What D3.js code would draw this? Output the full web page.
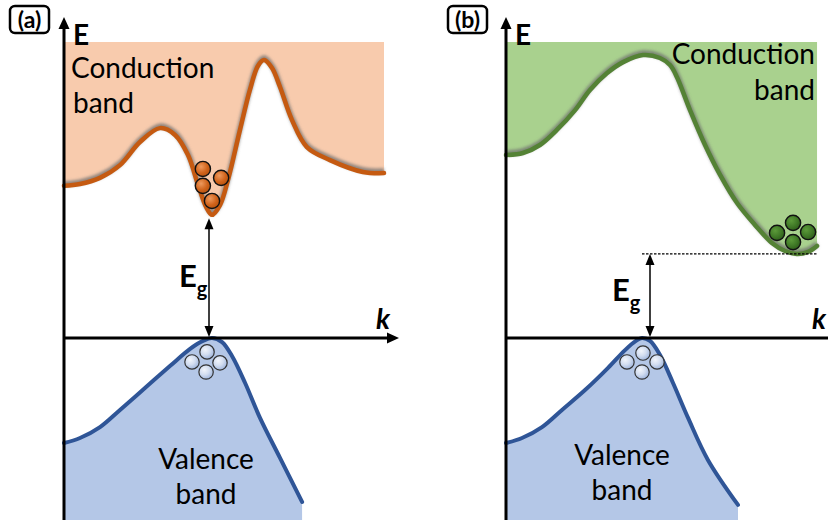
<!DOCTYPE html>
<html>
<head>
<meta charset="utf-8">
<script src="https://cdn.jsdelivr.net/npm/d3@7"></script>
<style>
  html, body { margin: 0; padding: 0; background: #fff; }
  svg { display: block; }
  text { font-family: Lato, "Open Sans", "Liberation Sans", sans-serif; }
</style>
</head>
<body>
<svg id="chart" width="828" height="520"></svg>
<script>
// Band-structure sketch: (a) direct gap, (b) indirect gap.
// k in arbitrary units (0..10), E in arbitrary units (E = 0 at valence maximum).

// ---- (a) direct band gap ----
const condA_k = [0, 0.5, 1.125, 1.75, 2.375, 3.0, 3.47, 3.875, 4.19, 4.44, 4.625, 4.875, 5.125, 5.5, 5.81, 6.06, 6.25, 6.5, 6.75, 7.125, 7.59, 8.31, 9.34, 10];
const condA_E = [5.14, 5.20, 5.41, 5.84, 6.62, 7.09, 6.86, 6.18, 5.17, 4.43, 4.16, 4.49, 5.34, 7.03, 8.38, 9.19, 9.39, 9.12, 8.48, 7.36, 6.45, 6.01, 5.61, 5.57];
const valA_k = [0, 0.5, 1.125, 1.75, 2.53, 3.31, 3.94, 4.34, 4.625, 4.94, 5.25, 5.66, 6.125, 6.75, 7.44];
const valA_E = [-3.55, -3.38, -3.01, -2.43, -1.69, -0.95, -0.37, -0.10, 0, -0.14, -0.61, -1.52, -2.70, -4.05, -5.54];
const elecA_k = [4.34, 4.91, 4.34, 4.625];
const elecA_E = [5.71, 5.41, 5.14, 4.63];
const holeA_k = [4.0, 4.47, 4.875, 4.44];
const holeA_E = [-0.81, -0.47, -0.84, -1.15];

// ---- (b) indirect band gap ----
const condB_k = [0, 0.53, 1.06, 1.59, 2.16, 2.625, 3.16, 3.66, 4.28, 4.81, 5.125, 5.34, 5.75, 6.22, 6.69, 7.22, 7.78, 8.31, 8.72, 9.09, 9.44, 9.72];
const condB_E = [6.18, 6.25, 6.52, 7.03, 7.70, 8.38, 8.95, 9.32, 9.56, 9.46, 9.22, 8.82, 7.70, 6.52, 5.51, 4.56, 3.82, 3.21, 2.94, 2.84, 2.91, 3.11];
const valB_k = [0, 0.5, 1.125, 1.75, 2.47, 3.19, 3.72, 4.06, 4.25, 4.5, 4.81, 5.22, 5.69, 6.31, 7.25];
const valB_E = [-3.55, -3.38, -3.01, -2.43, -1.76, -1.01, -0.41, -0.10, 0, -0.10, -0.57, -1.52, -2.70, -4.12, -5.64];
const elecB_k = [8.47, 8.97, 9.44, 8.97];
const elecB_E = [3.55, 3.89, 3.58, 3.24];
const holeB_k = [3.78, 4.28, 4.72, 4.25];
const holeB_E = [-0.81, -0.51, -0.81, -1.15];

const panelLabels = ["(a)", "(b)"];
const axisLabelE = "E";
const axisLabelK = "k";
const condLabel = ["Conduction", "band"];
const valLabel = ["Valence", "band"];

const E_TOP = 10, E_BOTTOM = -6.15;

const svg = d3.select("#chart");
const defs = svg.append("defs");

// soft grey shadow under the band curves
const sh = defs.append("filter").attr("id", "shadow")
  .attr("x", "-10%").attr("y", "-20%").attr("width", "120%").attr("height", "140%");
sh.append("feGaussianBlur").attr("stdDeviation", 1.6);

function radial(id, stops) {
  const g = defs.append("radialGradient").attr("id", id)
    .attr("cx", "38%").attr("cy", "35%").attr("r", "70%");
  stops.forEach(([o, c]) => g.append("stop").attr("offset", o).attr("stop-color", c));
}
radial("gOrange", [["0%", "#ee9a5e"], ["60%", "#d0631b"], ["100%", "#b4520f"]]);
radial("gGreen", [["0%", "#5c9a3a"], ["60%", "#3f7826"], ["100%", "#2d5a19"]]);
radial("gHole", [["0%", "#f2f5fb"], ["50%", "#d2ddf0"], ["100%", "#9cb3dc"]]);

const y = d3.scaleLinear().domain([E_BOTTOM, E_TOP]).range([520, 42]);

const panels = [
  {
    x: d3.scaleLinear().domain([0, 10]).range([64, 384]),
    axisX: 64, kEnd: 399,
    cond: { k: condA_k, E: condA_E, fill: "#f8cbad", line: "#c55a11" },
    val: { k: valA_k, E: valA_E },
    elec: { k: elecA_k, E: elecA_E, fill: "url(#gOrange)" },
    hole: { k: holeA_k, E: holeA_E },
    label: panelLabels[0], box: [10, 6],
    condText: { x: 71, y: 78, anchor: "start", dy: 35, x2: 73 },
    valText: { x: 206, y: 469 },
    kLabel: [376, 329],
    egX: 209, egLabel: [179, 287], dashed: false
  },
  {
    x: d3.scaleLinear().domain([0, 10]).range([506, 826]),
    axisX: 506, kEnd: 842,
    cond: { k: condB_k, E: condB_E, fill: "#a9d18e", line: "#548235" },
    val: { k: valB_k, E: valB_E },
    elec: { k: elecB_k, E: elecB_E, fill: "url(#gGreen)" },
    hole: { k: holeB_k, E: holeB_E },
    label: panelLabels[1], box: [448, 6],
    condText: { x: 815, y: 64, anchor: "end", dy: 36, x2: 815 },
    valText: { x: 622, y: 465 },
    kLabel: [812, 329],
    egX: 650, egLabel: [612, 301], dashed: true
  }
];

panels.forEach(p => {
  const g = svg.append("g");
  const x = p.x;
  const cPts = p.cond.k.map((k, i) => [k, p.cond.E[i]]);
  const vPts = p.val.k.map((k, i) => [k, p.val.E[i]]);
  const curve = d3.curveCatmullRom.alpha(0.5);

  // conduction band region (above the band edge)
  g.append("path")
    .attr("d", d3.area().x(d => x(d[0])).y0(y(E_TOP)).y1(d => y(d[1])).curve(curve)(cPts))
    .attr("fill", p.cond.fill);

  // valence band region (below the band edge)
  g.append("path")
    .attr("d", d3.area().x(d => x(d[0])).y0(y(E_BOTTOM)).y1(d => y(d[1])).curve(curve)(vPts))
    .attr("fill", "#b4c7e7");

  const line = d3.line().x(d => x(d[0])).y(d => y(d[1])).curve(curve);
  // shadow of the conduction edge
  g.append("path").attr("d", line(cPts))
    .attr("transform", "translate(0,-2)")
    .attr("fill", "none").attr("stroke", "#6e6e6e").attr("stroke-width", 5.5)
    .attr("stroke-opacity", 0.75).attr("filter", "url(#shadow)");
  g.append("path").attr("d", line(cPts))
    .attr("fill", "none").attr("stroke", p.cond.line).attr("stroke-width", 4.5)
    .attr("stroke-linecap", "round");
  g.append("path").attr("d", line(vPts))
    .attr("fill", "none").attr("stroke", "#2f5597").attr("stroke-width", 4)
    .attr("stroke-linecap", "round");

  // axes
  const y0 = y(0);
  g.append("line").attr("x1", p.axisX).attr("x2", p.axisX)
    .attr("y1", 520).attr("y2", 26).attr("stroke", "#000").attr("stroke-width", 3);
  g.append("path")
    .attr("d", `M${p.axisX},17 L${p.axisX - 5.5},29 L${p.axisX + 5.5},29 Z`).attr("fill", "#000");
  g.append("line").attr("x1", p.axisX).attr("x2", p.kEnd - 8)
    .attr("y1", y0).attr("y2", y0).attr("stroke", "#000").attr("stroke-width", 3);
  g.append("path")
    .attr("d", `M${p.kEnd},${y0} L${p.kEnd - 12},${y0 - 5.5} L${p.kEnd - 12},${y0 + 5.5} Z`).attr("fill", "#000");

  // axis labels
  g.append("text").attr("x", p.axisX + 9).attr("y", 45)
    .attr("font-size", 28).attr("font-weight", 700).text(axisLabelE);
  g.append("text").attr("x", p.kLabel[0]).attr("y", p.kLabel[1])
    .attr("font-size", 28).attr("font-weight", 700).attr("font-style", "italic").text(axisLabelK);

  // panel tag
  g.append("rect").attr("x", p.box[0]).attr("y", p.box[1]).attr("width", 39).attr("height", 27)
    .attr("rx", 5).attr("fill", "#fff").attr("stroke", "#000").attr("stroke-width", 2.5);
  g.append("text").attr("x", p.box[0] + 19.5).attr("y", p.box[1] + 21.5)
    .attr("text-anchor", "middle").attr("font-size", 23).attr("font-weight", 700).text(p.label);

  // band names
  g.append("text").attr("x", p.condText.x).attr("y", p.condText.y)
    .attr("text-anchor", p.condText.anchor).attr("font-size", 28).text(condLabel[0]);
  g.append("text").attr("x", p.condText.x2).attr("y", p.condText.y + p.condText.dy)
    .attr("text-anchor", p.condText.anchor).attr("font-size", 28).text(condLabel[1]);
  g.append("text").attr("x", p.valText.x).attr("y", p.valText.y)
    .attr("text-anchor", "middle").attr("font-size", 28).text(valLabel[0]);
  g.append("text").attr("x", p.valText.x).attr("y", p.valText.y + 35)
    .attr("text-anchor", "middle").attr("font-size", 28).text(valLabel[1]);

  // band gap arrow: from valence maximum up to conduction minimum
  const cMin = d3.min(p.cond.E);
  const yTop = y(cMin) + (p.dashed ? 0 : 3.5);
  const ax = p.egX;
  g.append("line").attr("x1", ax).attr("x2", ax).attr("y1", yTop + 8).attr("y2", y0 - 8)
    .attr("stroke", "#000").attr("stroke-width", 1.5);
  g.append("path").attr("d", `M${ax},${yTop} L${ax - 4.5},${yTop + 11} L${ax + 4.5},${yTop + 11} Z`).attr("fill", "#000");
  g.append("path").attr("d", `M${ax},${y0 - 1} L${ax - 4.5},${y0 - 12} L${ax + 4.5},${y0 - 12} Z`).attr("fill", "#000");
  const eg = g.append("text").attr("x", p.egLabel[0]).attr("y", p.egLabel[1])
    .attr("font-size", 31).attr("font-weight", 700);
  eg.append("tspan").text("E");
  eg.append("tspan").attr("font-size", 20).attr("dy", 9).text("g");

  if (p.dashed) {
    g.append("line").attr("x1", ax - 8).attr("x2", x(d3.max(p.cond.k)))
      .attr("y1", y(cMin)).attr("y2", y(cMin))
      .attr("stroke", "#000").attr("stroke-width", 1.2).attr("stroke-dasharray", "2.5,1.5");
  }

  // electrons in the conduction minimum
  g.selectAll(".e").data(p.elec.k.map((k, i) => [k, p.elec.E[i]])).join("circle")
    .attr("cx", d => x(d[0])).attr("cy", d => y(d[1])).attr("r", 7.6)
    .attr("fill", p.elec.fill).attr("stroke", "#111").attr("stroke-width", 1.4);
  // holes at the valence maximum
  g.selectAll(".h").data(p.hole.k.map((k, i) => [k, p.hole.E[i]])).join("circle")
    .attr("cx", d => x(d[0])).attr("cy", d => y(d[1])).attr("r", 7.2)
    .attr("fill", "url(#gHole)").attr("stroke", "#333").attr("stroke-width", 1.2);
});
</script>
</body>
</html>
